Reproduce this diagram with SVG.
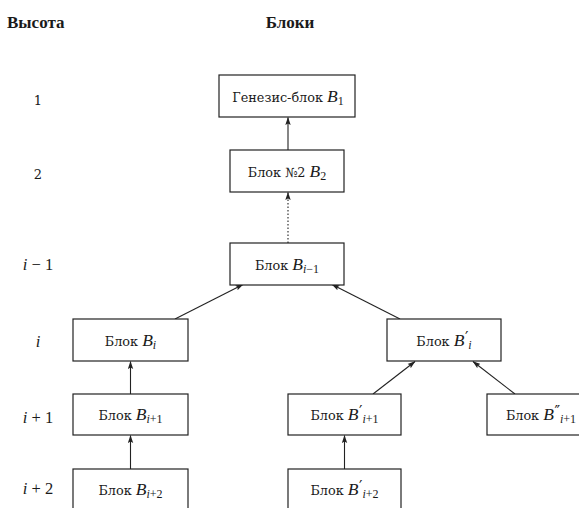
<svg xmlns="http://www.w3.org/2000/svg" width="579" height="508" viewBox="0 0 579 508">
  <style>
    .box { fill: #fff; stroke: #222; stroke-width: 1.2; }
    .lbl { font-family: "DejaVu Serif", "Liberation Serif", serif; font-size: 12.8px; fill: #1a1a1a; text-anchor: middle; }
    .m { font-family: "Liberation Serif", serif; font-style: italic; font-size: 17.5px; }
    .s { font-family: "Liberation Serif", serif; font-size: 12px; font-style: normal; }
    .si { font-family: "Liberation Serif", serif; font-size: 12px; font-style: italic; }
    .pr { font-family: "DejaVu Sans", sans-serif; font-size: 15px; font-style: normal; }
    .hdr { font-family: "Liberation Serif", "DejaVu Serif", serif; font-size: 17px; font-weight: bold; fill: #1a1a1a; }
    .num { font-family: "DejaVu Serif", serif; font-size: 13px; fill: #1a1a1a; text-anchor: middle; }
    .row { font-family: "Liberation Serif", serif; font-size: 16.5px; fill: #1a1a1a; text-anchor: middle; }
    .edge { stroke: #222; stroke-width: 1.1; fill: none; marker-end: url(#tip); }
    .dot { stroke-dasharray: 1.5 2; }
  </style>
  <defs>
    <marker id="tip" viewBox="0 0 8 6" refX="7.5" refY="3" markerWidth="8" markerHeight="6" markerUnits="userSpaceOnUse" orient="auto">
      <path d="M0,0.3 L8,3 L0,5.7 L1.5,3 z" fill="#222"/>
    </marker>
  </defs>

  <!-- column headers -->
  <text class="hdr" x="7" y="28">Высота</text>
  <text class="hdr" x="290" y="28" text-anchor="middle">Блоки</text>

  <!-- height labels -->
  <g id="heights">
    <text class="num" x="38" y="105">1</text>
    <text class="num" x="38" y="179">2</text>
    <text class="row" x="38" y="270"><tspan font-style="italic">i</tspan> − 1</text>
    <text class="row" x="38" y="347" font-style="italic">i</text>
    <text class="row" x="38" y="423"><tspan font-style="italic">i</tspan> + 1</text>
    <text class="row" x="38" y="494"><tspan font-style="italic">i</tspan> + 2</text>
  </g>

  <!-- connectors -->
  <g id="edges">
    <line class="edge" x1="288" y1="150" x2="288" y2="117.5"/>
    <line class="edge dot" x1="288" y1="243" x2="288" y2="192.5"/>
    <line class="edge" x1="175" y1="319" x2="243" y2="284.5"/>
    <line class="edge" x1="400" y1="319" x2="332" y2="284.5"/>
    <line class="edge" x1="130.5" y1="394" x2="130.5" y2="361.5"/>
    <line class="edge" x1="130.5" y1="469" x2="130.5" y2="435.5"/>
    <line class="edge" x1="373" y1="394" x2="415" y2="361.5"/>
    <line class="edge" x1="515" y1="394" x2="473" y2="361.5"/>
    <line class="edge" x1="344.5" y1="469" x2="344.5" y2="435.5"/>
  </g>

  <g id="genesis">
    <rect class="box" x="219" y="75" width="136" height="42"/>
    <text class="lbl" x="288" y="102">Генезис-блок <tspan class="m">B</tspan><tspan class="s" dy="3">1</tspan></text>
  </g>
  <g id="block2">
    <rect class="box" x="230" y="150" width="114" height="42"/>
    <text class="lbl" x="287" y="177">Блок №2 <tspan class="m">B</tspan><tspan class="s" dy="3">2</tspan></text>
  </g>
  <g id="block-i-minus-1">
    <rect class="box" x="230" y="243" width="114" height="42"/>
    <text class="lbl" x="287" y="270">Блок <tspan class="m">B</tspan><tspan class="si" dy="3">i</tspan><tspan class="s">−1</tspan></text>
  </g>
  <g id="block-i">
    <rect class="box" x="73" y="319" width="115" height="42"/>
    <text class="lbl" x="130.5" y="346">Блок <tspan class="m">B</tspan><tspan class="si" dy="3">i</tspan></text>
  </g>
  <g id="block-i-prime">
    <rect class="box" x="387" y="319" width="114" height="42"/>
    <text class="lbl" x="444" y="346">Блок <tspan class="m">B</tspan><tspan class="pr" dx="0.5" dy="-3">′</tspan><tspan class="si" dy="6">i</tspan></text>
  </g>
  <g id="block-i-plus-1">
    <rect class="box" x="73" y="394" width="115" height="41"/>
    <text class="lbl" x="130.5" y="420">Блок <tspan class="m">B</tspan><tspan class="si" dy="3">i</tspan><tspan class="s">+1</tspan></text>
  </g>
  <g id="block-i-plus-1-prime">
    <rect class="box" x="288" y="394" width="113" height="41"/>
    <text class="lbl" x="344.5" y="420">Блок <tspan class="m">B</tspan><tspan class="pr" dx="0.5" dy="-3">′</tspan><tspan class="si" dy="6">i</tspan><tspan class="s">+1</tspan></text>
  </g>
  <g id="block-i-plus-1-double-prime">
    <rect class="box" x="487" y="394" width="114" height="41"/>
    <text class="lbl" x="541" y="420">Блок <tspan class="m">B</tspan><tspan class="pr" dx="0.5" dy="-3">″</tspan><tspan class="si" dy="6">i</tspan><tspan class="s">+1</tspan></text>
  </g>
  <g id="block-i-plus-2">
    <rect class="box" x="73" y="469" width="115" height="42"/>
    <text class="lbl" x="130.5" y="495">Блок <tspan class="m">B</tspan><tspan class="si" dy="3">i</tspan><tspan class="s">+2</tspan></text>
  </g>
  <g id="block-i-plus-2-prime">
    <rect class="box" x="288" y="469" width="113" height="42"/>
    <text class="lbl" x="344.5" y="495">Блок <tspan class="m">B</tspan><tspan class="pr" dx="0.5" dy="-3">′</tspan><tspan class="si" dy="6">i</tspan><tspan class="s">+2</tspan></text>
  </g>
</svg>
